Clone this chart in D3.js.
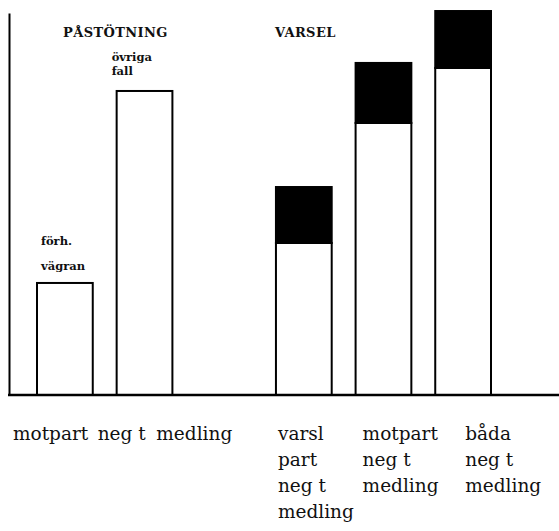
<!DOCTYPE html>
<html>
<head>
<meta charset="utf-8">
<script src="https://cdn.jsdelivr.net/npm/d3@7"></script>
<style>
    body { margin: 0; background: #fff; }
    .label { font-family: "DejaVu Serif", serif; font-size: 18.5px; fill: #111; }
    .note { font-family: "DejaVu Serif", serif; font-weight: bold; font-size: 11.5px; fill: #111; }
    .title { font-family: "DejaVu Serif", serif; font-weight: bold; font-size: 13px; letter-spacing: 0.4px; fill: #111; }
</style>
</head>
<body>
<div id="chart"></div>
<script>
// categories (one bar each), the label lines under each bar
var categories = ['motpart', 'neg t', 'medling', 'varsl part neg t medling', 'motpart neg t medling', 'båda neg t medling'];
var categoryLabels = [['motpart'], ['neg t'], ['medling'], ['varsl', 'part', 'neg t', 'medling'], ['motpart', 'neg t', 'medling'], ['båda', 'neg t', 'medling']];

// white (lower) part and black (upper) part of each bar
var baseValues = [11.35, 30.8, 0, 15.4, 27.56, 33.13];
var topValues = [0, 0, 0, 5.67, 6.08, 5.77];

// group headings and the notes above the first two bars
var groupTitles = ['PÅSTÖTNING', 'VARSEL'];
var groupStart = [0, 3];
var barNotes = [['förh.', 'vägran'], ['övriga', 'fall'], [], [], [], []];

var chart_width = 559,
    chart_height = 531,
    baseline = 395,
    svg,
    xScale,
    yScale,
    rows,
    stacked;

// layout tweaks for the typed labels (offsets from the band start)
var labelDx = [-24, -19, -40, 2, 7, 30];
var labelY0 = 440,
    labelLineH = 26;
var noteDx = [4, -5],
    noteDy = [[-38, -13], [-30, -16]];
var titleDx = [26, -1],
    titleY = 37;

svg = d3.select('#chart').append('svg')
    .attr('width', chart_width)
    .attr('height', chart_height)
    .style('display', 'block');

svg.append('rect')
    .attr('width', chart_width)
    .attr('height', chart_height)
    .style('fill', '#fff');

xScale = d3.scaleBand()
    .domain(categories)
    .range([37, 491])
    .paddingInner(0.3)
    .paddingOuter(0);

yScale = d3.scaleLinear()
    .domain([0, 38.7])
    .range([baseline, 13]);

rows = categories.map(function(c, i) {
    return {cat: c, base: baseValues[i], top: topValues[i]};
});
stacked = d3.stack().keys(['base', 'top'])(rows);

// vertical axis, no ticks
var y_axis_elem = svg.append('g')
    .attr('transform', 'translate(9,0)')
    .call(d3.axisLeft(yScale).tickValues([]).tickSizeOuter(0));
y_axis_elem.select('.domain')
    .style('stroke', '#000')
    .style('stroke-width', 2);

// bars
var layer = svg.selectAll('.layer')
        .data(stacked)
    .enter()
        .append('g')
            .attr('class', function(d) { return 'layer ' + d.key; });

layer.selectAll('rect')
    .data(function(d) { return d.filter(function(p) { return p[1] > p[0]; }); })
    .enter()
    .append('rect')
        .attr('x', function(d) { return xScale(d.data.cat); })
        .attr('width', xScale.bandwidth())
        .attr('y', function(d) { return yScale(d[1]); })
        .attr('height', function(d) { return yScale(d[0]) - yScale(d[1]); })
        .style('fill', function(d) { return d[0] > 0 ? '#000' : '#fff'; })
        .style('stroke', '#000')
        .style('stroke-width', 2);

// baseline across the whole width
svg.append('line')
    .attr('x1', 8)
    .attr('x2', chart_width)
    .attr('y1', yScale(0))
    .attr('y2', yScale(0))
    .style('stroke', '#000')
    .style('stroke-width', 2.5);

// category labels
categories.forEach(function(c, i) {
    categoryLabels[i].forEach(function(line, j) {
        svg.append('text')
            .attr('class', 'label')
            .attr('x', xScale(c) + labelDx[i])
            .attr('y', labelY0 + j * labelLineH)
            .text(line);
    });
});

// notes above bars
barNotes.forEach(function(lines, i) {
    var c = categories[i];
    var topY = yScale(baseValues[i] + topValues[i]);
    lines.forEach(function(line, j) {
        svg.append('text')
            .attr('class', 'note')
            .attr('x', xScale(c) + noteDx[i])
            .attr('y', topY + noteDy[i][j])
            .text(line);
    });
});

// group titles
groupTitles.forEach(function(t, g) {
    svg.append('text')
        .attr('class', 'title')
        .attr('x', xScale(categories[groupStart[g]]) + titleDx[g])
        .attr('y', titleY)
        .text(t);
});
</script>
</body>
</html>
